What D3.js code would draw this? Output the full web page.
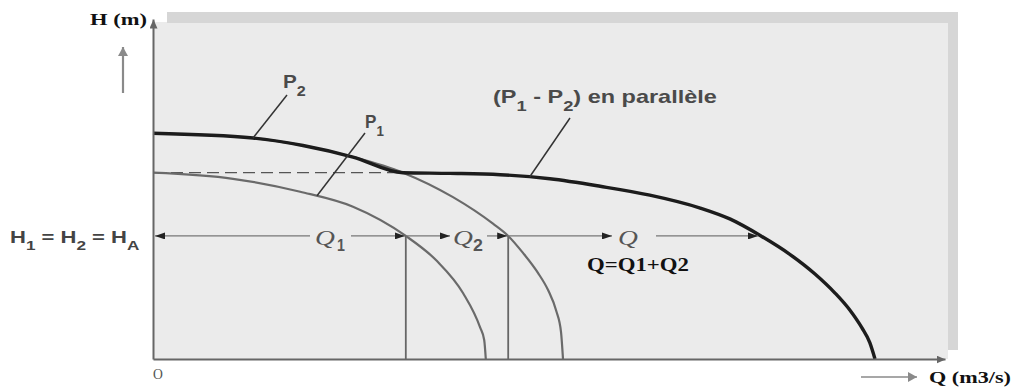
<!DOCTYPE html>
<html>
<head>
<meta charset="utf-8">
<script src="https://cdn.jsdelivr.net/npm/d3@7"></script>
<style>
  html, body { margin: 0; padding: 0; background: #fff; }
  svg { display: block; }
</style>
</head>
<body>
<svg id="chart" width="1013" height="390"></svg>
<script>
// Pump characteristic curves H(Q): single pumps P1, P2 and the parallel combination.
const p1Q = [0, 10, 18.4, 25, 31.6, 35.5, 38.75, 40.9, 41.4, 41.6];
const p1H = [27.4, 26.5, 24.6, 22.4, 18.1, 14.4, 9.7, 4.6, 2.8, 0];

const p2Q = [0, 12.5, 18.75, 25, 31.25, 37.5, 42.5, 44.4, 46.25, 48.1, 49.4, 50.4, 51.0, 51.25];
const p2H = [33.2, 32.5, 31.4, 29.7, 27.4, 23.8, 19.9, 18.1, 15.6, 12.7, 10.1, 7.1, 4.0, 0];

// parallel curve: follows P2 above the P1 shut-off head, then the summed flows
const parQ = [0, 12.5, 18.75, 25, 31.25, 37.1, 43.4, 49.6, 55.9, 62.1, 68.4, 72.1, 76.0, 79.6, 82.75, 85.25, 87.1, 88.6, 89.6, 90.25];
const parH = [33.2, 32.5, 31.4, 29.7, 27.4, 27.3, 27.1, 26.5, 25.4, 24.1, 22.2, 20.6, 18.1, 15.4, 12.5, 9.7, 7.2, 4.6, 2.4, 0];

// Common operating head and the flows read on it
const headA = 18.1;
const flowsAtHead = [31.6, 44.4, 76.0];
const flowNames = ["Q1", "Q2", "Q"];

const svg = d3.select("#chart");
const x = d3.scaleLinear().domain([0, 99]).range([153, 945]);
const y = d3.scaleLinear().domain([0, 50]).range([359, 19]);

const zip = (qs, hs) => qs.map((q, i) => [q, hs[i]]);
const line = d3.line().x(d => x(d[0])).y(d => y(d[1])).curve(d3.curveMonotoneX);

// arrowheads
const defs = svg.append("defs");
function marker(id, len, half, color) {
  defs.append("marker")
    .attr("id", id).attr("viewBox", `0 ${-half} ${len} ${2 * half}`)
    .attr("refX", len).attr("refY", 0)
    .attr("markerUnits", "userSpaceOnUse")
    .attr("markerWidth", len).attr("markerHeight", 2 * half)
    .attr("orient", "auto-start-reverse")
    .append("path").attr("d", `M0,${-half}L${len},0L0,${half}Z`).attr("fill", color);
}
marker("arrDim", 10, 3.5, "#222");
marker("arrAxis", 9, 4, "#666");
marker("arrUp", 9, 5, "#8a8a8a");

// panel background with shaded frame
svg.append("rect").attr("x", x(0)).attr("y", 22).attr("width", 948 - x(0)).attr("height", y(0) - 22).attr("fill", "#ebebeb");
svg.append("rect").attr("x", 167).attr("y", 12).attr("width", 791).attr("height", 11).attr("fill", "#d6d6d6");
svg.append("rect").attr("x", 948).attr("y", 12).attr("width", 10).attr("height", 338).attr("fill", "#d6d6d6");

// dashed shut-off head of P1
svg.append("line")
  .attr("x1", x(0)).attr("x2", x(parQ[4])).attr("y1", y(p1H[0])).attr("y2", y(p1H[0]))
  .attr("stroke", "#555").attr("stroke-width", 1.3).attr("stroke-dasharray", "12,6");

// single-pump curves
svg.append("path").attr("d", line(zip(p1Q, p1H))).attr("fill", "none").attr("stroke", "#6a6a6a").attr("stroke-width", 2.2);
svg.append("path").attr("d", line(zip(p2Q, p2H))).attr("fill", "none").attr("stroke", "#6a6a6a").attr("stroke-width", 2.2);

// vertical lines at the operating flows of P1 and P2
flowsAtHead.slice(0, 2).forEach(q => {
  svg.append("line").attr("x1", x(q)).attr("x2", x(q)).attr("y1", y(headA)).attr("y2", y(0))
    .attr("stroke", "#666").attr("stroke-width", 1.8);
});

// parallel combination
svg.append("path").attr("d", line(zip(parQ, parH))).attr("fill", "none").attr("stroke", "#1c1c1c").attr("stroke-width", 3.4).attr("stroke-linejoin", "round");

// axes
const gx = svg.append("g").attr("transform", `translate(0,${y(0)})`)
  .call(d3.axisBottom(x).tickValues([]).tickSizeOuter(0));
gx.select(".domain").attr("stroke", "#666").attr("stroke-width", 2).attr("marker-end", "url(#arrAxis)");
const gy = svg.append("g").attr("transform", `translate(${x(0)},0)`)
  .call(d3.axisLeft(y).tickValues([]).tickSizeOuter(0));
gy.select(".domain").attr("stroke", "#666").attr("stroke-width", 2).attr("marker-end", "url(#arrAxis)");

// text helper: parts = [[string, isSubscript], ...], stretched to a given width
function label(parts, opt) {
  const g = svg.append("g");
  const t = g.append("text").attr("x", 0).attr("y", 0)
    .attr("font-family", opt.family).attr("font-weight", opt.weight || "bold")
    .attr("font-style", opt.style || "normal")
    .attr("font-size", opt.size).attr("fill", opt.fill || "#111");
  let sub = false;
  parts.forEach(([s, isSub]) => {
    const sp = t.append("tspan").text(s);
    if (isSub && !sub) sp.attr("dy", opt.size * 0.42).attr("font-size", opt.size * 0.78);
    else if (!isSub && sub) sp.attr("dy", -opt.size * 0.42);
    else if (isSub) sp.attr("font-size", opt.size * 0.78);
    sub = isSub;
  });
  const w = t.node().getBBox().width;
  const sx = opt.width ? opt.width / w : 1;
  g.attr("transform", `translate(${opt.x},${opt.y}) scale(${sx},1)`);
  return g;
}
const SANS = "Liberation Sans, Arial, sans-serif";
const SERIF = "Liberation Serif, Times New Roman, serif";

// dimension line at the common head
const yA = y(headA);
function dim(x1, x2, start) {
  const l = svg.append("line").attr("x1", x1).attr("x2", x2).attr("y1", yA).attr("y2", yA)
    .attr("stroke", "#777").attr("stroke-width", 1.2);
  if (start) l.attr("marker-start", "url(#arrDim)"); else l.attr("marker-end", "url(#arrDim)");
}
// Q1 : from axis to P1
dim(x(0) + 2, 310, true);
dim(351, x(flowsAtHead[0]) - 1, false);
// Q2 : from P1 to P2
dim(x(flowsAtHead[0]), 450, false);
dim(487, x(flowsAtHead[1]) - 1, false);
// Q : from P2 to the combined curve
dim(x(flowsAtHead[1]), 612, false);
dim(656, x(flowsAtHead[2]) - 3, false);

const qLabelX = [[315, 20, 337, 8], [453, 20, 473, 10], [618, 20]];
flowNames.forEach((n, i) => {
  const [qx, qw, sx, sw] = qLabelX[i];
  label([["Q", false]], { x: qx, y: 245, size: 22, family: SERIF, weight: "normal", style: "italic", fill: "#555", width: qw });
  if (n.length > 1) label([[n.slice(1), false]], { x: sx, y: 251, size: 16, family: SANS, weight: "bold", fill: "#555", width: sw });
});

// leader lines to curve labels
const leader = (x1, y1, x2, y2) => svg.append("line").attr("x1", x1).attr("y1", y1).attr("x2", x2).attr("y2", y2)
  .attr("stroke", "#333").attr("stroke-width", 1.5);
leader(x(12.5), y(32.5), 287, 95);
leader(x(20.5), y(24.0), 365, 133);
leader(x(47.1), y(26.8), 570, 118);

label([["P", false], ["2", true]], { x: 283, y: 88, size: 18, family: SANS, fill: "#4a4a4a", width: 23 });
label([["P", false], ["1", true]], { x: 365, y: 128, size: 18, family: SANS, fill: "#4a4a4a", width: 19 });
label([["(P", false], ["1", true], [" -  P", false], ["2", true], [") en parallèle", false]],
  { x: 493, y: 103, size: 18, family: SANS, fill: "#4a4a4a", width: 224 });
label([["H", false], ["1", true], [" = H", false], ["2", true], [" = H", false], ["A", true]],
  { x: 10, y: 243, size: 17, family: SANS, fill: "#444", width: 130 });

// axis titles
label([["H (m)", false]], { x: 90, y: 25, size: 17, family: SERIF, fill: "#111", width: 57 });
label([["Q (m3/s)", false]], { x: 929, y: 383, size: 17, family: SERIF, fill: "#111", width: 82 });
label([["O", false]], { x: 153, y: 379, size: 15, family: SERIF, weight: "normal", fill: "#555", width: 10 });
label([["Q=Q1+Q2", false]], { x: 587, y: 271, size: 19, family: SERIF, fill: "#111", width: 102 });

// direction arrows beside the axis titles
svg.append("line").attr("x1", 123).attr("y1", 93).attr("x2", 123).attr("y2", 47)
  .attr("stroke", "#8a8a8a").attr("stroke-width", 2.2).attr("marker-end", "url(#arrUp)");
svg.append("line").attr("x1", 861).attr("y1", 377).attr("x2", 917).attr("y2", 377)
  .attr("stroke", "#8a8a8a").attr("stroke-width", 1.6).attr("marker-end", "url(#arrUp)");
</script>
</body>
</html>
